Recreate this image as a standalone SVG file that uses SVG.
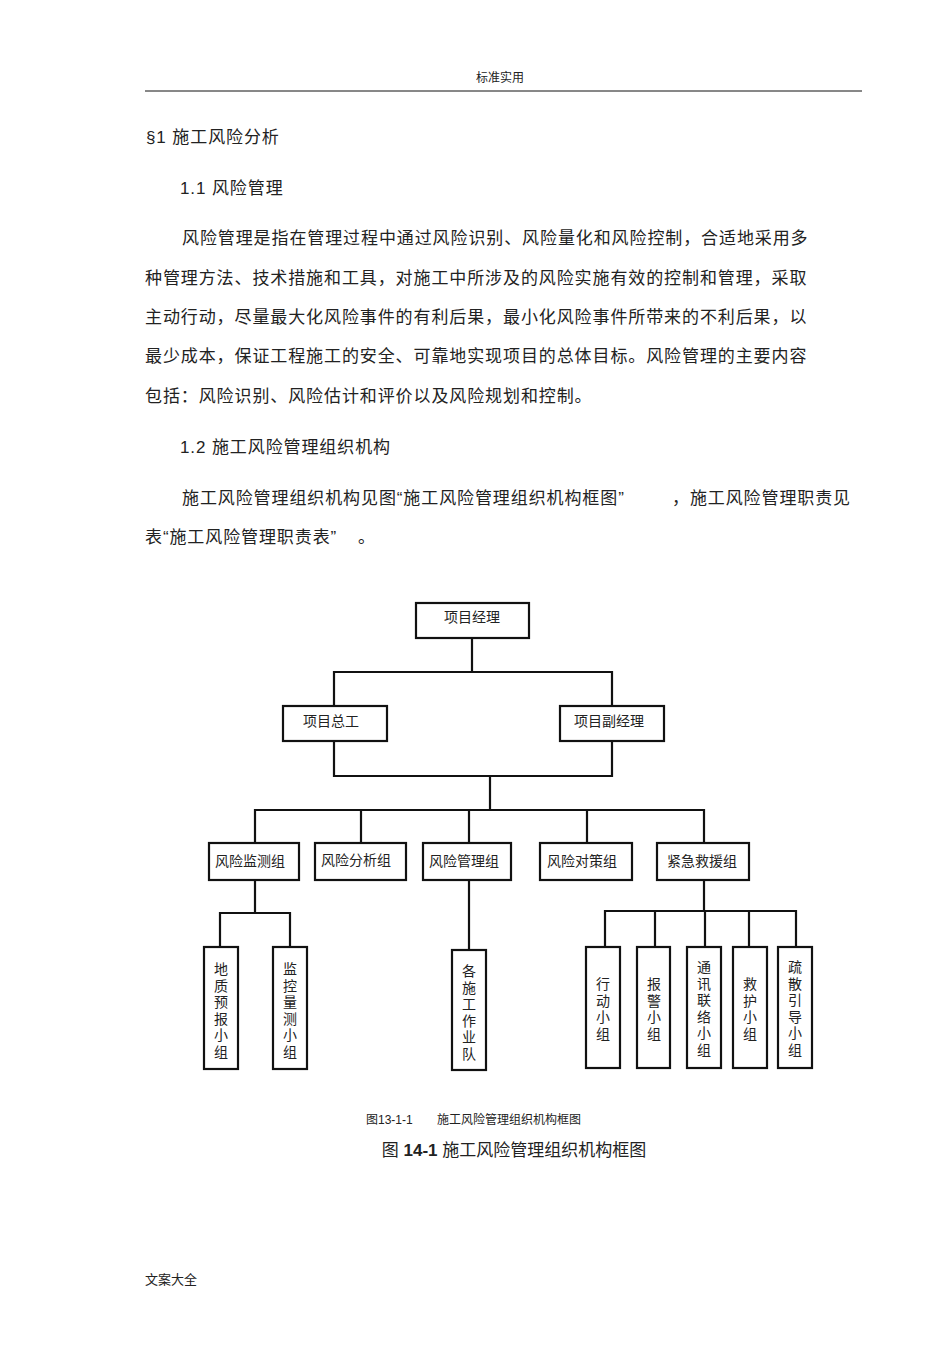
<svg xmlns="http://www.w3.org/2000/svg" width="950" height="1345" viewBox="0 0 950 1345">
<style>
text{font-family:"Liberation Sans","Noto Sans CJK SC",sans-serif;fill:#222}
.p{font-size:17px;letter-spacing:0.9px}
.b rect{fill:#fff;stroke:#111;stroke-width:2.2}
.b text{font-size:14px;text-anchor:middle}
.c{fill:none;stroke:#111;stroke-width:2.2}
</style>
<rect width="950" height="1345" fill="#fff"/>
<text x="500" y="82" font-size="12" text-anchor="middle">标准实用</text>
<line x1="145" y1="91" x2="862" y2="91" stroke="#111" stroke-width="1"/>
<text class="p" x="146" y="143">§1  施工风险分析</text>
<text class="p" x="180" y="194">1.1  风险管理</text>
<text class="p" x="182" y="244">风险管理是指在管理过程中通过风险识别、风险量化和风险控制，合适地采用多</text>
<text class="p" x="145" y="284">种管理方法、技术措施和工具，对施工中所涉及的风险实施有效的控制和管理，采取</text>
<text class="p" x="145" y="323">主动行动，尽量最大化风险事件的有利后果，最小化风险事件所带来的不利后果，以</text>
<text class="p" x="145" y="362">最少成本，保证工程施工的安全、可靠地实现项目的总体目标。风险管理的主要内容</text>
<text class="p" x="145" y="402">包括：风险识别、风险估计和评价以及风险规划和控制。</text>
<text class="p" x="180" y="453">1.2  施工风险管理组织机构</text>
<text class="p" x="182" y="504">施工风险管理组织机构见图“施工风险管理组织机构框图”<tspan x="672">，施工风险管理职责见</tspan></text>
<text class="p" x="145" y="543">表“施工风险管理职责表”<tspan x="358">。</tspan></text>
<g id="connectors" class="c">
<path d="M472 638V672M334 706V672H612V706"/>
<path d="M334 741V776H612V741M490 776V810"/>
<path d="M255 843V810H704V843M361 810V843M469 810V843M587 810V843"/>
<path d="M255 880V913M220 947V913H290V947"/>
<path d="M469 880V950"/>
<path d="M704 880V911M605 947V911H796V947M655 911V947M705 911V947M749 911V947"/>
</g>
<g class="b">
<g id="n1"><rect x="416" y="603" width="113" height="35"/><text x="472" y="622">项目经理</text></g>
<g id="n2"><rect x="283" y="706" width="104" height="35"/><text x="331" y="726">项目总工</text></g>
<g id="n3"><rect x="560" y="706" width="104" height="35"/><text x="609" y="726">项目副经理</text></g>
<g id="n4"><rect x="209" y="843" width="90" height="37"/><text x="250" y="866">风险监测组</text></g>
<g id="n5"><rect x="315" y="843" width="91" height="37"/><text x="356" y="865">风险分析组</text></g>
<g id="n6"><rect x="423" y="843" width="88" height="37"/><text x="464" y="866">风险管理组</text></g>
<g id="n7"><rect x="540" y="843" width="92" height="37"/><text x="582" y="866">风险对策组</text></g>
<g id="n8"><rect x="657" y="843" width="92" height="37"/><text x="702" y="866">紧急救援组</text></g>
<g id="n9"><rect x="204" y="947" width="34" height="122"/><text x="221" y="974">地</text><text x="221" y="990.5">质</text><text x="221" y="1007">预</text><text x="221" y="1023.5">报</text><text x="221" y="1040">小</text><text x="221" y="1056.5">组</text></g>
<g id="n10"><rect x="273" y="947" width="34" height="122"/><text x="290" y="974">监</text><text x="290" y="990.5">控</text><text x="290" y="1007">量</text><text x="290" y="1023.5">测</text><text x="290" y="1040">小</text><text x="290" y="1056.5">组</text></g>
<g id="n11"><rect x="452" y="950" width="34" height="120"/><text x="469" y="976">各</text><text x="469" y="992.5">施</text><text x="469" y="1009">工</text><text x="469" y="1025.5">作</text><text x="469" y="1042">业</text><text x="469" y="1058.5">队</text></g>
<g id="n12"><rect x="586" y="947" width="34" height="121"/><text x="603" y="989">行</text><text x="603" y="1005.5">动</text><text x="603" y="1022">小</text><text x="603" y="1038.5">组</text></g>
<g id="n13"><rect x="637" y="947" width="33" height="121"/><text x="654" y="989">报</text><text x="654" y="1005.5">警</text><text x="654" y="1022">小</text><text x="654" y="1038.5">组</text></g>
<g id="n14"><rect x="687" y="947" width="34" height="121"/><text x="704" y="972">通</text><text x="704" y="988.5">讯</text><text x="704" y="1005">联</text><text x="704" y="1021.5">络</text><text x="704" y="1038">小</text><text x="704" y="1054.5">组</text></g>
<g id="n15"><rect x="733" y="947" width="34" height="121"/><text x="750" y="989">救</text><text x="750" y="1005.5">护</text><text x="750" y="1022">小</text><text x="750" y="1038.5">组</text></g>
<g id="n16"><rect x="778" y="947" width="34" height="121"/><text x="795" y="972">疏</text><text x="795" y="988.5">散</text><text x="795" y="1005">引</text><text x="795" y="1021.5">导</text><text x="795" y="1038">小</text><text x="795" y="1054.5">组</text></g>
</g>
<text x="366" y="1124" font-size="12">图13-1-1<tspan x="437">施工风险管理组织机构框图</tspan></text>
<text x="514" y="1156" font-size="17" text-anchor="middle">图 <tspan font-weight="bold">14-1</tspan> 施工风险管理组织机构框图</text>
<text x="145" y="1284" font-size="13">文案大全</text>
</svg>
